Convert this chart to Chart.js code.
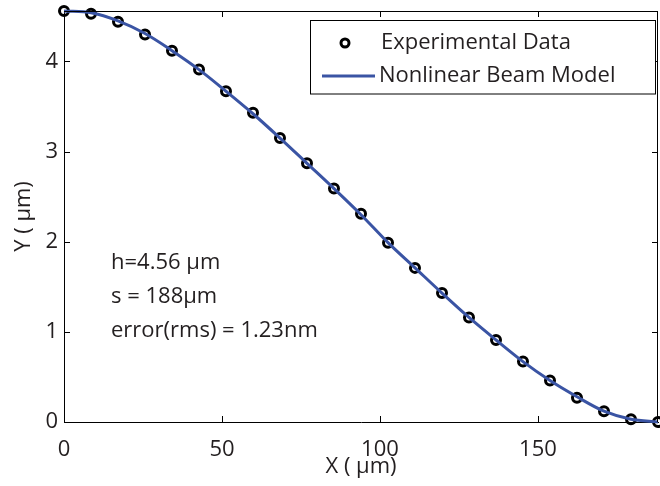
<!DOCTYPE html>
<html>
<head>
<meta charset="utf-8">
<script src="https://cdn.jsdelivr.net/npm/chart.js@4/dist/chart.umd.min.js"></script>
<style>
html,body{margin:0;padding:0;background:#fff;}
#wrap{width:660px;height:486px;position:relative;}
</style>
</head>
<body>
<div id="wrap"><canvas id="c" width="660" height="486"></canvas></div>
<script>
// ---- data ----
const xValues = [0, 8.55, 17.09, 25.64, 34.18, 42.73, 51.27, 59.82, 68.36, 76.91, 85.45, 94.0,
                 102.55, 111.09, 119.64, 128.18, 136.73, 145.27, 153.82, 162.36, 170.91, 179.45, 188.0];
const experimentalY = [4.56, 4.53, 4.44, 4.30, 4.12, 3.91, 3.67, 3.43, 3.15, 2.87, 2.59, 2.31,
                       1.99, 1.71, 1.43, 1.16, 0.91, 0.67, 0.46, 0.27, 0.12, 0.03, 0.00];
const modelY = [4.56, 4.54, 4.45, 4.31, 4.12, 3.91, 3.67, 3.42, 3.15, 2.87, 2.59, 2.30,
                1.99, 1.71, 1.43, 1.16, 0.91, 0.67, 0.46, 0.28, 0.12, 0.03, 0.00];
const xTicks = [0, 50, 100, 150];
const yTicks = [0, 1, 2, 3, 4];
const seriesNames = ['Experimental Data', 'Nonlinear Beam Model'];
const notes = ['h=4.56 \u03bcm', 's = 188\u03bcm', 'error(rms) = 1.23nm'];
const xTitle = 'X ( \u03bcm)';
const yTitle = 'Y ( \u03bcm)';

const FONT = '"Open Sans", "Noto Sans", sans-serif';
const FS = 22;
const TXT = '#231f20';
const BLUE = '#3a54a4';

const expPoints = xValues.map((x, i) => ({x, y: experimentalY[i]}));
const modelPoints = xValues.map((x, i) => ({x, y: modelY[i]}));

const zeroPad = s => { s.paddingTop = 0; s.paddingBottom = 0; s.paddingLeft = 0; s.paddingRight = 0; };

const decor = {
  id: 'decor',
  afterDraw(chart) {
    const ctx = chart.ctx;
    const a = chart.chartArea;
    const xs = chart.scales.x, ys = chart.scales.y;
    ctx.save();
    ctx.strokeStyle = '#000';
    ctx.lineWidth = 1;
    // top and right frame
    ctx.beginPath();
    ctx.moveTo(a.left, a.top + 0.5); ctx.lineTo(a.right, a.top + 0.5);
    ctx.moveTo(a.right - 0.5, a.top); ctx.lineTo(a.right - 0.5, a.bottom);
    ctx.stroke();
    // inward ticks
    const tl = 6;
    ctx.beginPath();
    xTicks.forEach(v => {
      if (v === 0) return;
      const px = Math.round(xs.getPixelForValue(v)) + 0.5;
      ctx.moveTo(px, a.bottom); ctx.lineTo(px, a.bottom - tl);
      ctx.moveTo(px, a.top); ctx.lineTo(px, a.top + tl);
    });
    yTicks.forEach(v => {
      if (v === 0) return;
      const py = Math.round(ys.getPixelForValue(v)) + 0.5;
      ctx.moveTo(a.left, py); ctx.lineTo(a.left + tl, py);
      ctx.moveTo(a.right, py); ctx.lineTo(a.right - tl, py);
    });
    ctx.stroke();

    // annotation text
    ctx.fillStyle = TXT;
    ctx.font = FS + 'px ' + FONT;
    ctx.textAlign = 'left';
    ctx.textBaseline = 'middle';
    notes.forEach((t, i) => ctx.fillText(t, 111, 263 + i * 34));

    // legend
    const L = 310.5, T = 20.5, R = 655.5, B = 94;
    ctx.fillStyle = '#fff';
    ctx.fillRect(L, T, R - L, B - T);
    ctx.strokeStyle = '#000';
    ctx.lineWidth = 1;
    ctx.strokeRect(L, T, R - L, B - T);
    ctx.beginPath();
    ctx.arc(345, 43, 4, 0, Math.PI * 2);
    ctx.lineWidth = 3;
    ctx.strokeStyle = '#000';
    ctx.stroke();
    ctx.beginPath();
    ctx.moveTo(322, 76); ctx.lineTo(375, 76);
    ctx.strokeStyle = BLUE;
    ctx.lineWidth = 3;
    ctx.stroke();
    ctx.fillStyle = TXT;
    ctx.fillText(seriesNames[0], 381, 43);
    ctx.fillText(seriesNames[1], 379, 76);
    ctx.restore();
  }
};

new Chart(document.getElementById('c'), {
  type: 'scatter',
  data: {
    datasets: [
      {
        label: seriesNames[1],
        data: modelPoints,
        showLine: true,
        borderColor: BLUE,
        borderWidth: 3,
        pointRadius: 0,
        cubicInterpolationMode: 'monotone',
        clip: false,
        order: 0
      },
      {
        label: seriesNames[0],
        data: expPoints,
        showLine: false,
        pointRadius: 4.5,
        pointBorderWidth: 3,
        pointBorderColor: '#000',
        pointBackgroundColor: 'rgba(0,0,0,0)',
        clip: false,
        order: 1
      }
    ]
  },
  options: {
    responsive: false,
    animation: false,
    events: [],
    layout: { autoPadding: false, padding: { top: 11, right: 2, left: 0, bottom: 0 } },
    plugins: { legend: { display: false }, tooltip: { enabled: false } },
    scales: {
      x: {
        type: 'linear',
        min: 0, max: 188,
        afterBuildTicks: s => { s.ticks = xTicks.map(v => ({value: v})); },
        afterFit: s => { s.height = 64; zeroPad(s); },
        grid: { display: false, drawTicks: false },
        border: { display: true, color: '#000', width: 1 },
        ticks: { color: TXT, font: { family: FONT, size: FS }, padding: 15, maxRotation: 0 },
        title: { display: true, text: xTitle, color: TXT, font: { family: FONT, size: FS }, padding: { top: 0, bottom: 6 } }
      },
      y: {
        type: 'linear',
        min: 0, max: 4.56,
        afterBuildTicks: s => { s.ticks = yTicks.map(v => ({value: v})); },
        afterFit: s => { s.width = 64; zeroPad(s); },
        grid: { display: false, drawTicks: false },
        border: { display: true, color: '#000', width: 1 },
        ticks: { color: TXT, font: { family: FONT, size: FS }, padding: 6 },
        title: { display: true, text: yTitle, color: TXT, font: { family: FONT, size: FS }, padding: { top: 11, bottom: 0 } }
      }
    }
  },
  plugins: [decor]
});
</script>
</body>
</html>
